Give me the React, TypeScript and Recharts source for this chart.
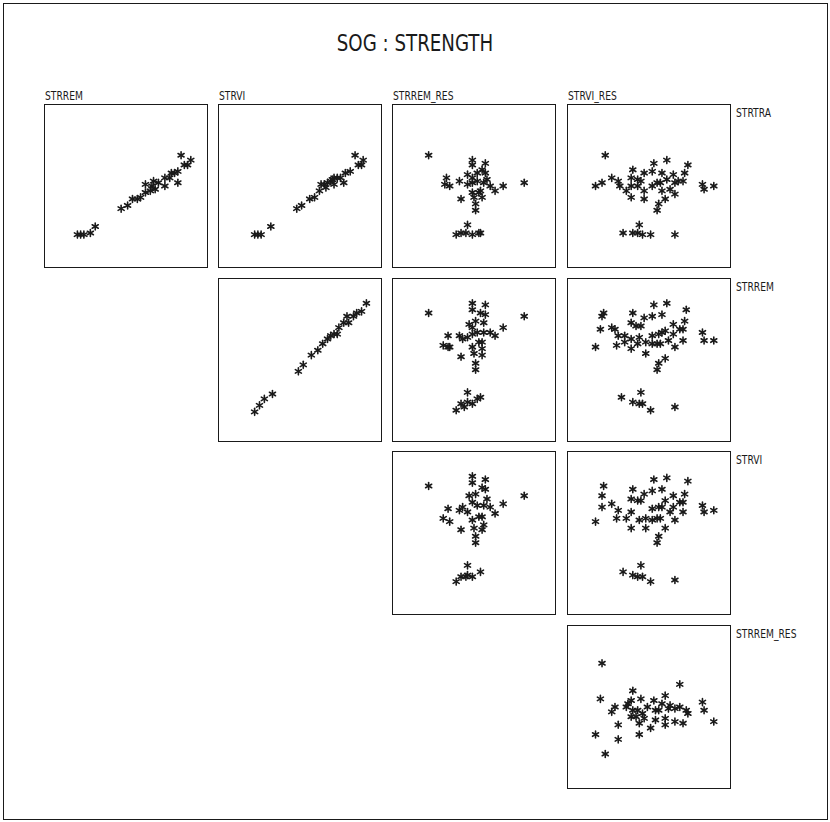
import React from 'react';
import { ScatterChart, Scatter, XAxis, YAxis } from 'recharts';

// column (x) and row (y) variables of the scatterplot matrix
const colLabels = ['STRREM', 'STRVI', 'STRREM_RES', 'STRVI_RES'];
const rowLabels = ['STRTRA', 'STRREM', 'STRVI', 'STRREM_RES'];

// each pair is [x, y] on a 0..100 scale within its panel
const traRem: [number, number][] = [
  [20, 20], [22, 20], [24, 20], [28, 21], [31, 25], [47, 36], [51, 38], [54, 42], [57, 42], [59, 43],
  [62, 46], [65, 47], [62, 51], [67, 53], [70, 52], [74, 50], [74, 55], [77, 55], [80, 58], [82, 59],
  [82, 52], [84, 69], [86, 63], [88, 63], [90, 66], [68, 48], [66, 50], [78, 58],
];

const traVi: [number, number][] = [
  [22, 20], [24, 20], [26, 20], [32, 25], [48, 36], [51, 38], [56, 42], [59, 43], [62, 47], [63, 51],
  [65, 51], [67, 52], [69, 53], [70, 54], [71, 55], [73, 55], [75, 55], [77, 52], [78, 58], [81, 59],
  [84, 69], [86, 63], [88, 63], [89, 66], [66, 49], [71, 51],
];

const traRemRes: [number, number][] = [
  [22, 69], [49, 66], [49, 63], [57, 64], [57, 58], [55, 60], [52, 58], [49, 55], [46, 57], [41, 53],
  [33, 55], [32, 51], [35, 50], [46, 51], [49, 52], [52, 53], [56, 52], [58, 54], [60, 50], [63, 47],
  [68, 50], [81, 52], [42, 42], [50, 43], [54, 47], [51, 39], [51, 35], [55, 43], [53, 46], [49, 46],
  [46, 26], [39, 20], [42, 21], [45, 21], [49, 20], [53, 21], [54, 21],
];

const traViRes: [number, number][] = [
  [23, 69], [17, 50], [21, 52], [27, 55], [31, 53], [40, 60], [39, 55], [43, 54], [45, 53], [47, 58],
  [52, 59], [53, 64], [58, 58], [61, 66], [65, 57], [72, 58], [74, 63], [36, 47], [39, 43], [43, 50],
  [47, 47], [47, 42], [52, 50], [55, 52], [57, 52], [58, 47], [60, 42], [56, 39], [55, 35], [63, 48],
  [66, 45], [66, 52], [68, 53], [71, 53], [61, 54], [32, 50], [39, 50], [83, 51], [84, 48], [90, 50],
  [34, 21], [40, 21], [44, 26], [46, 20], [51, 20], [66, 20], [43, 21],
];

const remVi: [number, number][] = [
  [22, 18], [25, 22], [28, 26], [33, 29], [49, 43], [52, 47], [57, 53], [61, 56], [64, 60], [67, 63],
  [69, 65], [71, 66], [73, 66], [74, 70], [77, 73], [79, 77], [80, 73], [83, 77], [88, 80], [91, 85],
  [85, 79],
];

const remRemRes: [number, number][] = [
  [22, 79], [49, 85], [57, 84], [49, 81], [57, 78], [54, 79], [51, 74], [56, 73], [47, 72], [49, 70],
  [52, 67], [49, 66], [56, 67], [60, 67], [68, 70], [63, 65], [81, 77], [34, 65], [41, 65], [43, 63],
  [46, 64], [31, 59], [34, 58], [35, 58], [42, 52], [50, 54], [55, 53], [53, 61], [55, 61], [55, 57],
  [49, 58], [51, 48], [51, 44], [46, 30], [54, 27], [52, 26], [46, 24], [42, 23], [49, 23], [39, 19],
  [44, 21],
];

const remViRes: [number, number][] = [
  [21, 77], [22, 79], [20, 69], [17, 58], [27, 70], [29, 69], [31, 65], [35, 65], [30, 59], [35, 61],
  [39, 73], [40, 79], [39, 63], [39, 57], [42, 71], [44, 64], [43, 60], [45, 71], [47, 76], [52, 77],
  [53, 84], [58, 78], [61, 85], [48, 61], [52, 60], [52, 65], [56, 66], [58, 67], [55, 60], [57, 60],
  [60, 68], [48, 54], [56, 48], [55, 44], [60, 51], [65, 72], [65, 66], [62, 62], [66, 58], [69, 69],
  [71, 69], [72, 74], [73, 81], [71, 62], [83, 67], [84, 62], [90, 62], [33, 27], [45, 30], [40, 24],
  [44, 23], [46, 23], [51, 19], [66, 21],
];

const viRemRes: [number, number][] = [
  [22, 79], [49, 85], [57, 83], [49, 81], [57, 77], [55, 78], [51, 74], [47, 73], [58, 71], [49, 69],
  [52, 67], [56, 67], [60, 66], [68, 68], [63, 62], [81, 73], [34, 65], [41, 64], [46, 63], [43, 66],
  [31, 59], [35, 57], [42, 52], [50, 53], [55, 52], [53, 60], [55, 60], [56, 55], [49, 58], [51, 48],
  [51, 44], [46, 30], [54, 26], [49, 23], [46, 24], [42, 23], [39, 20], [45, 23],
];

const viViRes: [number, number][] = [
  [22, 79], [21, 73], [21, 66], [17, 57], [27, 68], [31, 64], [30, 59], [36, 59], [39, 71], [40, 77],
  [39, 53], [39, 63], [43, 70], [45, 70], [44, 58], [47, 74], [52, 76], [53, 83], [58, 77], [61, 84],
  [48, 59], [52, 58], [52, 65], [56, 66], [58, 66], [55, 59], [57, 59], [60, 70], [48, 53], [56, 48],
  [55, 44], [60, 53], [65, 73], [65, 66], [63, 63], [66, 58], [69, 69], [71, 69], [72, 74], [74, 82],
  [71, 63], [83, 67], [84, 63], [90, 64], [34, 26], [45, 30], [40, 24], [43, 23], [46, 23], [51, 20],
  [66, 21],
];

const remResViRes: [number, number][] = [
  [21, 77], [20, 55], [17, 33], [23, 21], [31, 30], [27, 47], [29, 50], [31, 39], [40, 60], [39, 54],
  [36, 50], [39, 44], [40, 48], [43, 48], [45, 55], [46, 46], [44, 40], [44, 33], [47, 43], [49, 50],
  [51, 37], [53, 54], [54, 48], [56, 48], [54, 42], [58, 52], [60, 57], [60, 43], [60, 39], [62, 49],
  [63, 51], [66, 49], [66, 41], [69, 64], [69, 50], [71, 40], [73, 48], [74, 46], [83, 53], [84, 48],
  [90, 41], [42, 44], [37, 52],
];

const panels = [
  { row: 0, col: 0, pts: traRem },
  { row: 0, col: 1, pts: traVi },
  { row: 0, col: 2, pts: traRemRes },
  { row: 0, col: 3, pts: traViRes },
  { row: 1, col: 1, pts: remVi },
  { row: 1, col: 2, pts: remRemRes },
  { row: 1, col: 3, pts: remViRes },
  { row: 2, col: 2, pts: viRemRes },
  { row: 2, col: 3, pts: viViRes },
  { row: 3, col: 3, pts: remResViRes },
];

const colLeft = [44, 218, 392, 567];
const rowTop = [104, 278, 451, 625];
const SIZE = 164;
const INK = '#1a1a1a';
const FONT = "'DejaVu Sans Condensed', 'DejaVu Sans', sans-serif";

// plotter-style asterisk marker: three crossing strokes
const Asterisk = (props: any) => {
  const { cx, cy } = props;
  if (cx == null || cy == null) return null;
  const r = 3.5;
  const dx = r * Math.cos(Math.PI / 6);
  const dy = r * Math.sin(Math.PI / 6);
  return (
    <g stroke={INK} strokeWidth={1.6} strokeLinecap="round">
      <line x1={cx} y1={cy - r} x2={cx} y2={cy + r} />
      <line x1={cx - dx} y1={cy - dy} x2={cx + dx} y2={cy + dy} />
      <line x1={cx - dx} y1={cy + dy} x2={cx + dx} y2={cy - dy} />
    </g>
  );
};

const Panel = ({ pts, left, top }: { pts: [number, number][]; left: number; top: number }) => {
  const data = pts.map(([x, y]) => ({ x, y }));
  return (
    <div
      style={{
        position: 'absolute',
        left,
        top,
        width: SIZE,
        height: SIZE,
        boxSizing: 'border-box',
        border: `1px solid ${INK}`,
      }}
    >
      <ScatterChart width={SIZE - 2} height={SIZE - 2} margin={{ top: 0, right: 0, bottom: 0, left: 0 }}>
        <XAxis type="number" dataKey="x" domain={[0, 100]} hide />
        <YAxis type="number" dataKey="y" domain={[0, 100]} hide />
        <Scatter data={data} shape={Asterisk} isAnimationActive={false} />
      </ScatterChart>
    </div>
  );
};

const labelStyle: React.CSSProperties = {
  position: 'absolute',
  fontFamily: FONT,
  fontSize: 12,
  color: INK,
  lineHeight: '12px',
  whiteSpace: 'nowrap',
  transform: 'scaleX(0.85)',
  transformOrigin: 'left center',
};

export default function App() {
  return (
    <div
      style={{
        position: 'absolute',
        left: 0,
        top: 0,
        width: 830,
        height: 822,
        background: '#fff',
        overflow: 'hidden',
      }}
    >
      <div
        style={{
          position: 'absolute',
          left: 3,
          top: 3,
          width: 825,
          height: 817,
          boxSizing: 'border-box',
          border: `1px solid ${INK}`,
        }}
      />
      <div
        style={{
          position: 'absolute',
          left: 0,
          width: 830,
          top: 30,
          textAlign: 'center',
          fontFamily: FONT,
          fontWeight: 200,
          fontSize: 23,
          lineHeight: '26px',
          color: INK,
          transform: 'scaleX(0.88)',
          transformOrigin: '415px center',
        }}
      >
        SOG : STRENGTH
      </div>
      {colLabels.map((name, i) => (
        <div key={name} style={{ ...labelStyle, left: colLeft[i] + 1, top: 90 }}>
          {name}
        </div>
      ))}
      {rowLabels.map((name, i) => (
        <div key={name + i} style={{ ...labelStyle, left: 736, top: rowTop[i] + 3 }}>
          {name}
        </div>
      ))}
      {panels.map((p) => (
        <Panel key={`${p.row}-${p.col}`} pts={p.pts} left={colLeft[p.col]} top={rowTop[p.row]} />
      ))}
    </div>
  );
}
